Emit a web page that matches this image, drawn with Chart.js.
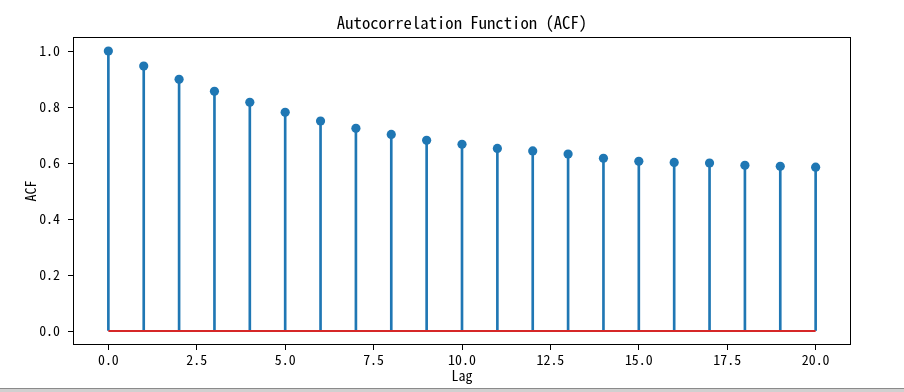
<!DOCTYPE html>
<html>
<head>
<meta charset="utf-8">
<script src="https://cdn.jsdelivr.net/npm/chart.js@4/dist/chart.umd.min.js"></script>
<style>
  html, body { margin: 0; padding: 0; background: #fff; }
  #wrap { position: relative; width: 904px; height: 392px; overflow: hidden; }
  #c { position: absolute; left: 0; top: 0; }
  #strip { position: absolute; left: 0; top: 388px; width: 904px; height: 4px; background: #d0d0d0; border-top: 1px solid #8a8a8a; box-sizing: border-box; }
</style>
</head>
<body>
<div id="wrap">
  <canvas id="c" width="904" height="392"></canvas>
  <div id="strip"></div>
</div>
<script>
const lags = [0, 1, 2, 3, 4, 5, 6, 7, 8, 9, 10, 11, 12, 13, 14, 15, 16, 17, 18, 19, 20];
const acfValues = [1.000, 0.946, 0.899, 0.856, 0.817, 0.781, 0.750, 0.724, 0.702, 0.681, 0.667,
                   0.652, 0.643, 0.632, 0.617, 0.606, 0.602, 0.600, 0.592, 0.588, 0.585];
const xTickValues = [0, 2.5, 5, 7.5, 10, 12.5, 15, 17.5, 20];
const yTickValues = [0, 0.2, 0.4, 0.6, 0.8, 1.0];
const titleText = 'Autocorrelation Function (ACF)';
const xLabel = 'Lag';
const yLabel = 'ACF';

const FONT = "'Noto Sans Mono CJK SC', 'Noto Sans Mono CJK JP', 'Liberation Mono', 'DejaVu Sans Mono', monospace";
const BLUE = '#1f77b4';
const RED = '#d62728';

const points = lags.map((l, i) => ({ x: l, y: acfValues[i] }));
const baseline = [{ x: lags[0], y: 0 }, { x: lags[lags.length - 1], y: 0 }];

const framePlugin = {
  id: 'frame',
  afterDraw(chart) {
    const { ctx, chartArea: a } = chart;
    ctx.save();
    ctx.strokeStyle = '#000';
    ctx.lineWidth = 1;
    ctx.strokeRect(Math.round(a.left) + 0.5, Math.round(a.top) + 0.5,
                   Math.round(a.right - a.left) - 1, Math.round(a.bottom - a.top) - 1);
    ctx.fillStyle = '#000';
    ctx.font = "16.7px " + FONT;
    ctx.textAlign = 'center';
    ctx.textBaseline = 'middle';
    ctx.fillText(titleText, (a.left + a.right) / 2, 23);
    ctx.restore();
  }
};

new Chart(document.getElementById('c'), {
  type: 'scatter',
  data: {
    datasets: [
      {
        type: 'scatter',
        data: points,
        backgroundColor: BLUE,
        borderColor: BLUE,
        pointRadius: 4.6,
        pointBorderWidth: 0,
        showLine: false,
        order: 0
      },
      {
        type: 'line',
        data: baseline,
        borderColor: RED,
        borderWidth: 2,
        pointRadius: 0,
        fill: false,
        order: 1
      },
      {
        type: 'bar',
        data: points,
        backgroundColor: BLUE,
        borderWidth: 0,
        barThickness: 2,
        order: 2
      }
    ]
  },
  options: {
    responsive: false,
    animation: false,
    events: [],
    layout: { padding: { left: 22, right: 53, top: 37, bottom: 8 } },
    plugins: { legend: { display: false }, tooltip: { enabled: false }, title: { display: false } },
    scales: {
      x: {
        type: 'linear',
        min: -1,
        max: 21,
        offset: false,
        afterFit(s) { s.height = 39; },
        afterBuildTicks(s) { s.ticks = xTickValues.map(v => ({ value: v })); },
        border: { display: false },
        grid: { display: true, offset: false, drawOnChartArea: false, drawTicks: true, tickLength: 5, color: '#000', lineWidth: 1 },
        ticks: {
          color: '#000',
          font: { family: FONT, size: 13.9 },
          padding: 1,
          maxRotation: 0,
          autoSkip: false,
          callback: v => Number(v).toFixed(1)
        },
        title: { display: true, text: xLabel, color: '#000', font: { family: FONT, size: 13.9 }, padding: 0 }
      },
      y: {
        type: 'linear',
        min: -0.05,
        max: 1.05,
        afterFit(s) { s.width = 51; },
        afterBuildTicks(s) { s.ticks = yTickValues.map(v => ({ value: v })); },
        border: { display: false },
        grid: { display: true, offset: false, drawOnChartArea: false, drawTicks: true, tickLength: 5, color: '#000', lineWidth: 1 },
        ticks: {
          color: '#000',
          font: { family: FONT, size: 13.9 },
          padding: 8,
          autoSkip: false,
          callback: v => Number(v).toFixed(1)
        },
        title: { display: true, text: yLabel, color: '#000', font: { family: FONT, size: 13.9 }, padding: 0 }
      }
    }
  },
  plugins: [framePlugin]
});
</script>
</body>
</html>
